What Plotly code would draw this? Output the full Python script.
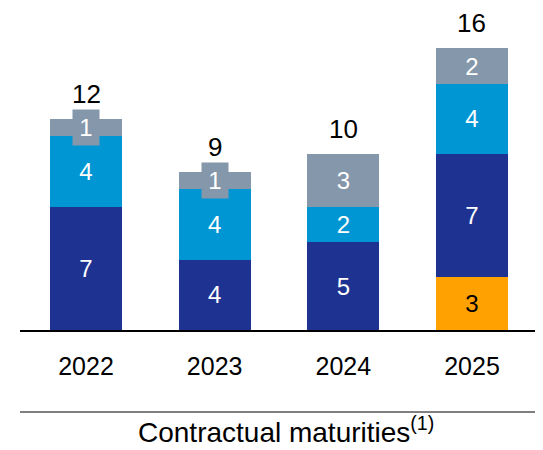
import plotly.graph_objects as go

years = ["2022", "2023", "2024", "2025"]
orange_vals = [None, None, None, 3]
navy_vals = [7, 4, 5, 7]
blue_vals = [4, 4, 2, 4]
gray_vals = [1, 1, 3, 2]
totals = [12, 9, 10, 16]

C_ORANGE = "#FFA100"
C_NAVY = "#1E3391"
C_BLUE = "#0095D3"
C_GRAY = "#8597AA"
FONT = "Liberation Sans, Arial, sans-serif"

fig = go.Figure()

def lbl(vals):
    return ["" if (v is None or v < 2) else str(v) for v in vals]

for name, vals, col in [("orange", orange_vals, C_ORANGE), ("navy", navy_vals, C_NAVY),
                        ("blue", blue_vals, C_BLUE), ("gray", gray_vals, C_GRAY)]:
    fig.add_trace(go.Bar(
        x=years, y=vals, marker=dict(color=col, line=dict(width=0)),
        text=lbl(vals), textposition="inside", insidetextanchor="middle",
        textfont=dict(family=FONT, size=24, color="#000000" if col == C_ORANGE else "#FFFFFF"),
        width=0.56, name=name, showlegend=False, hoverinfo="skip",
    ))

annotations = []
for i, y in enumerate(years):
    base = (orange_vals[i] or 0) + navy_vals[i] + blue_vals[i]
    if gray_vals[i] < 2:
        annotations.append(dict(
            x=i, y=base + gray_vals[i] / 2, xref="x", yref="y", text=str(gray_vals[i]),
            showarrow=False, font=dict(family=FONT, size=24, color="#FFFFFF"),
            bgcolor=C_GRAY, width=20, height=29, borderpad=3, yanchor="middle",
        ))
    annotations.append(dict(
        x=i, y=totals[i], xref="x", yref="y", text=str(totals[i]), showarrow=False,
        font=dict(family=FONT, size=26, color="#000000"), yanchor="bottom", yshift=8,
    ))

annotations.append(dict(
    x=0.5, y=-120 / 300, xref="paper", yref="paper", text="Contractual maturities<sup>(1)</sup>",
    showarrow=False, font=dict(family=FONT, size=28, color="#000000"), yanchor="bottom",
    xshift=4,
))

fig.update_layout(
    template="none",
    barmode="stack",
    width=535, height=442,
    margin=dict(l=12, r=0, t=22, b=120, autoexpand=False),
    plot_bgcolor="white", paper_bgcolor="white",
    xaxis=dict(type="category", range=[-0.513, 3.552], showline=True, linecolor="#000000",
               linewidth=1.5, ticks="", showgrid=False, zeroline=False, automargin=False,
               tickfont=dict(family=FONT, size=25, color="#000000"), ticklabelstandoff=13),
    yaxis=dict(range=[0, 300 / 17.6], visible=False, automargin=False),
    annotations=annotations,
    shapes=[dict(type="line", xref="paper", yref="paper", x0=0, x1=1, y0=-82 / 300, y1=-82 / 300,
                 line=dict(color="#000000", width=1))],
)

fig.write_html("out.html")
